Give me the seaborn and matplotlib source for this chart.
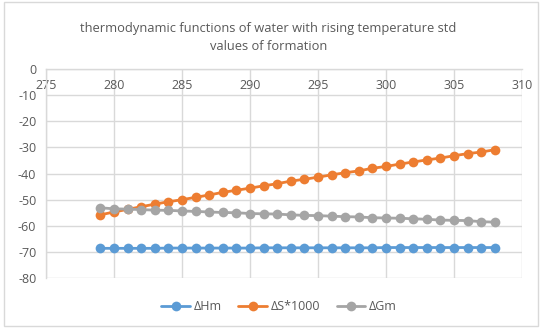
import matplotlib
matplotlib.use("Agg")
import matplotlib.pyplot as plt
import seaborn as sns
import pandas as pd
from matplotlib.patches import Rectangle

temperature = list(range(279, 309))
dH = [-68.6, -68.6, -68.6, -68.6, -68.6, -68.5, -68.5, -68.5, -68.5, -68.5,
      -68.5, -68.5, -68.4, -68.4, -68.4, -68.4, -68.4, -68.4, -68.4, -68.4,
      -68.4, -68.3, -68.3, -68.3, -68.3, -68.3, -68.3, -68.3, -68.3, -68.3]
dS1000 = [-55.8, -54.7, -53.7, -52.7, -51.7, -50.8, -50.0, -49.1, -48.2, -47.2,
          -46.4, -45.6, -44.7, -43.9, -42.9, -42.2, -41.4, -40.5, -39.7, -39.0,
          -38.0, -37.3, -36.4, -35.6, -34.8, -34.1, -33.2, -32.4, -31.8, -30.9]
dG = [-53.1, -53.5, -53.6, -53.8, -54.0, -54.1, -54.3, -54.5, -54.7, -54.9,
      -55.0, -55.3, -55.4, -55.5, -55.8, -56.0, -56.1, -56.3, -56.5, -56.6,
      -56.9, -57.0, -57.1, -57.3, -57.5, -57.8, -57.9, -58.0, -58.4, -58.6]
series_names = ["ΔHm", "ΔS*1000", "ΔGm"]
colors = ["#5B9BD5", "#ED7D31", "#A5A5A5"]
x_ticks = [275, 280, 285, 290, 295, 300, 305, 310]
y_ticks = [0, -10, -20, -30, -40, -50, -60, -70, -80]
title = "thermodynamic functions of water with rising temperature std\nvalues of formation"

df = pd.concat([
    pd.DataFrame({"T": temperature, "value": vals, "series": name})
    for name, vals in zip(series_names, [dH, dS1000, dG])
])

sns.set_style("white")
plt.rcParams["font.family"] = ["Open Sans", "DejaVu Sans"]
text_color = "#595959"
grid_color = "#D9D9D9"

fig = plt.figure(figsize=(5.42, 3.28), dpi=100)
ax = fig.add_axes([0.085, 0.152, 0.878, 0.638])

sns.lineplot(data=df, x="T", y="value", hue="series", palette=colors,
             marker="o", markersize=7, markeredgewidth=0, linewidth=2,
             ax=ax, legend=True)

ax.set_xlim(275, 310)
ax.set_ylim(-80, 0)
ax.set_xticks(x_ticks)
ax.set_yticks(y_ticks)
ax.set_xticklabels([str(t) for t in x_ticks])
ax.set_yticklabels([str(t) for t in y_ticks])
ax.grid(True, color=grid_color, linewidth=1)
ax.set_axisbelow(True)
ax.set_xlabel("")
ax.set_ylabel("")

for side in ["right", "bottom"]:
    ax.spines[side].set_visible(False)
ax.spines["top"].set_color(grid_color)
ax.spines["left"].set_color(grid_color)
ax.spines["top"].set_linewidth(1)
ax.spines["left"].set_linewidth(1)

ax.tick_params(axis="x", bottom=False, labelbottom=False, top=False,
               labeltop=True, pad=-17, length=0, labelsize=9, labelcolor=text_color)
ax.tick_params(axis="y", left=False, length=0, pad=7, labelsize=9, labelcolor=text_color)

handles, labels = ax.get_legend_handles_labels()
ax.legend(handles, labels, loc="center", bbox_to_anchor=(0.515, 0.065),
          bbox_transform=fig.transFigure, ncol=3, frameon=False,
          fontsize=9, labelcolor=text_color, handlelength=2.3, columnspacing=1.3,
          handletextpad=0.3)

fig.text(0.495, 0.885, title, ha="center", va="center", fontsize=9.3,
         color=text_color, linespacing=1.55)

fig.patches.append(Rectangle((0.008, 0.006), 0.985, 0.988, transform=fig.transFigure,
                             fill=False, edgecolor=grid_color, linewidth=1))

fig.savefig("out.png", dpi=100)
